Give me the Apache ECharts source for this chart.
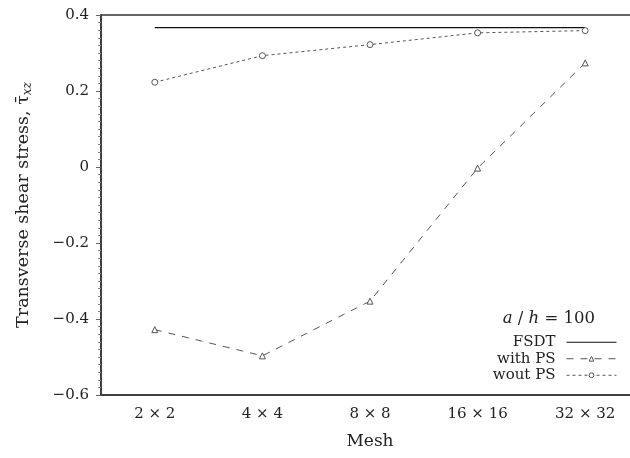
<!DOCTYPE html>
<html>
<head>
<meta charset="utf-8">
<script src="https://cdn.jsdelivr.net/npm/echarts@6/dist/echarts.min.js"></script>
<style>
  html, body { margin: 0; padding: 0; background: #fff; }
  #chart { width: 630px; height: 458px; }
</style>
</head>
<body>
<div id="chart"></div>
<script>
const meshes = ['2 \u00d7 2', '4 \u00d7 4', '8 \u00d7 8', '16 \u00d7 16', '32 \u00d7 32'];
const fsdt = [0.367, 0.367, 0.367, 0.367, 0.367];
const withPS = [-0.428, -0.497, -0.353, -0.003, 0.274];
const woutPS = [0.223, 0.293, 0.322, 0.353, 0.359];
const seriesNames = ['FSDT', 'with PS', 'wout PS'];

const font = 'DejaVu Serif';
const lineColor = '#555';
const hollow = { color: '#fff', borderColor: lineColor, borderWidth: 1 };

const chart = echarts.init(document.getElementById('chart'));

const option = {
  animation: false,
  textStyle: { fontFamily: font },
  grid: {
    left: 101, top: 15, bottom: 63, width: 538,
    outerBoundsMode: 'none',
    containLabel: false,
    show: true, borderColor: '#333', borderWidth: 1.5
  },
  xAxis: {
    type: 'category',
    data: meshes,
    name: 'Mesh',
    nameLocation: 'middle',
    nameGap: 38,
    nameTextStyle: { fontFamily: font, fontSize: 17, color: '#222' },
    axisLine: { onZero: false, lineStyle: { color: '#333', width: 1.5 } },
    axisTick: { alignWithLabel: true, length: 5, lineStyle: { color: '#666' } },
    axisLabel: { fontFamily: font, fontSize: 15, color: '#222', margin: 12 },
    splitLine: { show: false }
  },
  yAxis: {
    type: 'value',
    min: -0.6, max: 0.4, interval: 0.2,
    name: '{t|Transverse shear stress, \u03c4\u0304}{s|xz}',
    nameLocation: 'middle',
    nameGap: 67,
    nameTextStyle: {
      color: '#222',
      rich: {
        t: { fontFamily: font, fontSize: 17.5, color: '#222' },
        s: { fontFamily: font, fontSize: 12, fontStyle: 'italic', color: '#222', padding: [9, 0, 0, 0] }
      }
    },
    axisLine: { show: true, lineStyle: { color: '#333', width: 1.5 } },
    axisTick: { show: true, length: 5, lineStyle: { color: '#666' } },
    minorTick: { show: true, splitNumber: 10, length: 3, lineStyle: { color: '#888' } },
    axisLabel: {
      fontFamily: font, fontSize: 15, color: '#222', margin: 12,
      formatter: v => {
        const r = Math.round(v * 10) / 10;
        if (r === 0) return '0';
        return (r < 0 ? '\u2212' : '') + Math.abs(r).toFixed(1);
      }
    },
    splitLine: { show: false }
  },
  legend: {
    data: [
      { name: 'FSDT', itemStyle: { opacity: 0 } },
      { name: 'with PS', itemStyle: hollow },
      { name: 'wout PS', itemStyle: hollow }
    ],
    orient: 'vertical',
    align: 'right',
    right: 8,
    top: 329,
    itemWidth: 50,
    itemHeight: 6,
    itemGap: 0,
    lineStyle: { width: 1 },
    textStyle: { fontFamily: font, fontSize: 15, color: '#222', lineHeight: 16.5, padding: [0, 6, 0, 0] }
  },
  graphic: [{
    type: 'text',
    right: 35,
    top: 310,
    style: {
      text: '{i|a} / {i|h} = 100',
      rich: {
        i: { fontFamily: font, fontSize: 16.5, fontStyle: 'italic', fill: '#222' }
      },
      fontFamily: font,
      fontSize: 16.5,
      fill: '#222'
    }
  }],
  series: [
    {
      name: 'FSDT', type: 'line', data: fsdt,
      showSymbol: false, symbol: 'none',
      lineStyle: { color: '#111', width: 1.2, type: 'solid' },
      itemStyle: { color: '#111' }
    },
    {
      name: 'with PS', type: 'line', data: withPS,
      symbol: 'triangle', symbolSize: 6,
      lineStyle: { color: lineColor, width: 1, type: [7, 7] },
      itemStyle: hollow
    },
    {
      name: 'wout PS', type: 'line', data: woutPS,
      symbol: 'circle', symbolSize: 6,
      lineStyle: { color: lineColor, width: 1, type: [3, 3] },
      itemStyle: hollow
    }
  ]
};

chart.setOption(option);
</script>
</body>
</html>
